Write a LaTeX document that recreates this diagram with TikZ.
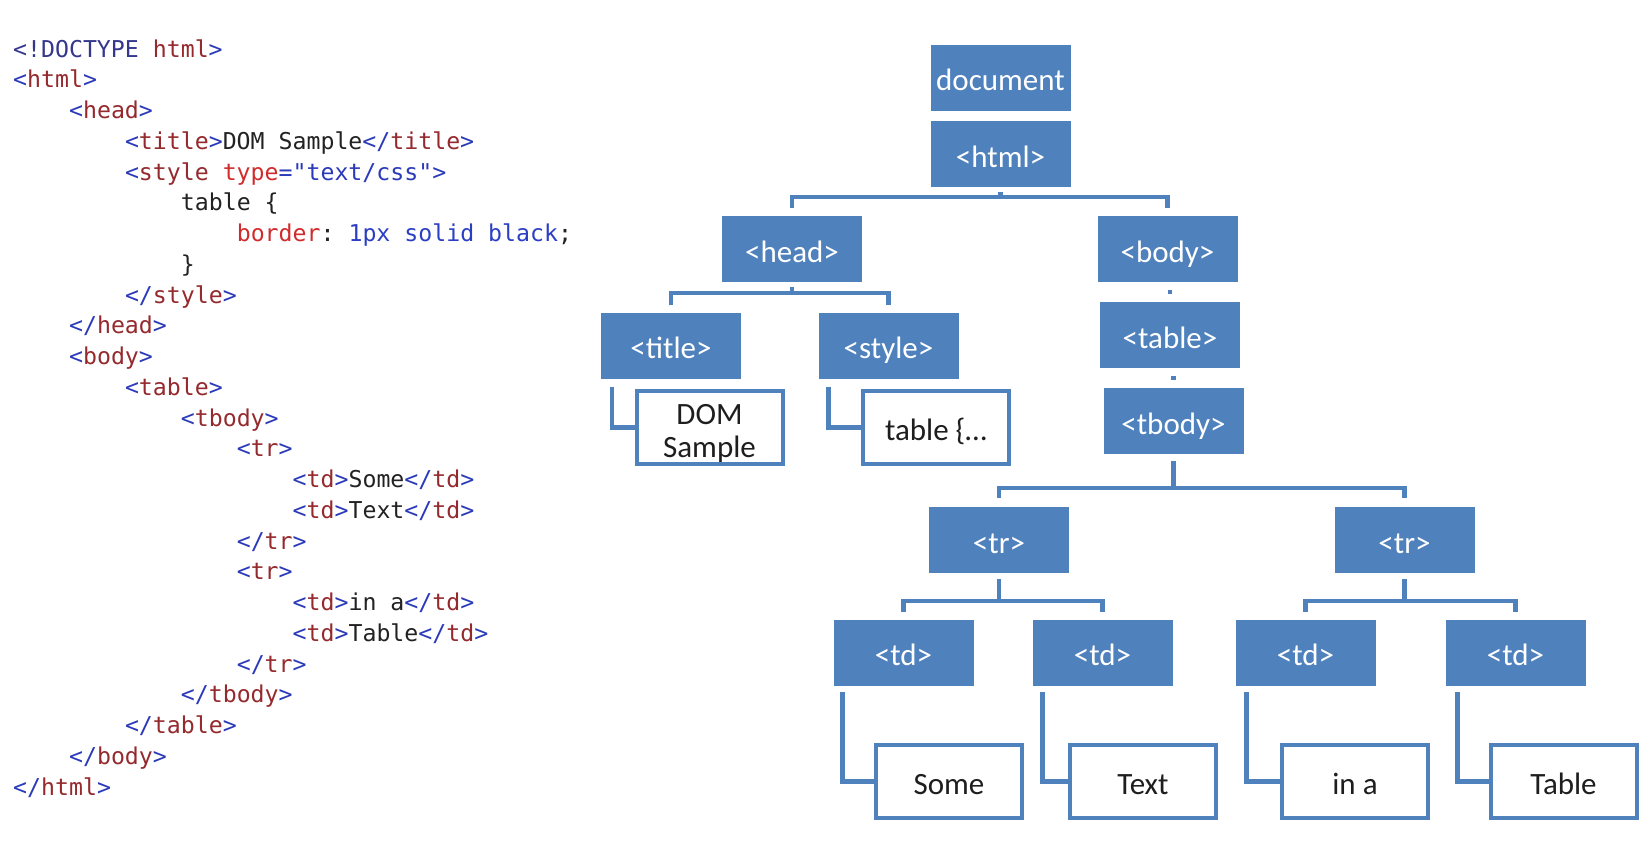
\documentclass[tikz,border=0pt]{standalone}
\usepackage{fontspec}
\setmainfont{Carlito}
\setmonofont{DejaVu Sans Mono}
\usetikzlibrary{calc}
\definecolor{dblue}{HTML}{4F81BD}
\definecolor{txt}{HTML}{1E1E1E}
\definecolor{cdelim}{HTML}{2B3AB8}
\definecolor{cdoc}{HTML}{34378C}
\definecolor{ctag}{HTML}{952A2E}
\definecolor{cattr}{HTML}{D02C2C}
\definecolor{cval}{HTML}{2B3FC4}
\definecolor{ctext}{HTML}{222222}
\newcommand\hD[1]{\textcolor{cdelim}{#1}}
\newcommand\hK[1]{\textcolor{cdoc}{#1}}
\newcommand\hT[1]{\textcolor{ctag}{#1}}
\newcommand\hA[1]{\textcolor{cattr}{#1}}
\newcommand\hV[1]{\textcolor{cval}{#1}}
\begin{document}
\begin{tikzpicture}[x=1pt,y=-1pt,
  bbox/.style={fill=dblue, text=white, minimum width=140pt, minimum height=66pt, inner sep=0pt, text height=26pt, text depth=0pt, font=\fontsize{31}{31}\selectfont},
  wboxbase/.style={draw=dblue, line width=4pt, fill=white, text=txt, minimum width=146pt, minimum height=73pt, inner sep=0pt, align=center, font=\fontsize{31}{33}\selectfont},
  wbox/.style={wboxbase, text height=25pt, text depth=0pt},
  conn/.style={draw=dblue, line width=4.5pt},
  codeline/.style={anchor=base west, inner sep=0pt, text=ctext, font=\ttfamily\fontsize{23.2}{23.2}\selectfont}]
\useasboundingbox (0,0) rectangle (1652,854);
\fill[white] (0,0) rectangle (1652,854);

% ---------- code listing ----------
\def\lh{30.75}
\def\ind{55.9}
\node[codeline] (l0)  at (13+0*\ind, 57+0*\lh)  {\hK{<!DOCTYPE} \hT{html}\hD{>}};
\node[codeline] (l1)  at (13+0*\ind, 57+1*\lh)  {\hD{<}\hT{html}\hD{>}};
\node[codeline] (l2)  at (13+1*\ind, 57+2*\lh)  {\hD{<}\hT{head}\hD{>}};
\node[codeline] (l3)  at (13+2*\ind, 57+3*\lh)  {\hD{<}\hT{title}\hD{>}DOM Sample\hD{</}\hT{title}\hD{>}};
\node[codeline] (l4)  at (13+2*\ind, 57+4*\lh)  {\hD{<}\hT{style} \hA{type}\hD{="text/css">}};
\node[codeline] (l5)  at (13+3*\ind, 57+5*\lh)  {table \{};
\node[codeline] (l6)  at (13+4*\ind, 57+6*\lh)  {\hA{border}: \hV{1px solid black};};
\node[codeline] (l7)  at (13+3*\ind, 57+7*\lh)  {\}};
\node[codeline] (l8)  at (13+2*\ind, 57+8*\lh)  {\hD{</}\hT{style}\hD{>}};
\node[codeline] (l9)  at (13+1*\ind, 57+9*\lh)  {\hD{</}\hT{head}\hD{>}};
\node[codeline] (l10) at (13+1*\ind, 57+10*\lh) {\hD{<}\hT{body}\hD{>}};
\node[codeline] (l11) at (13+2*\ind, 57+11*\lh) {\hD{<}\hT{table}\hD{>}};
\node[codeline] (l12) at (13+3*\ind, 57+12*\lh) {\hD{<}\hT{tbody}\hD{>}};
\node[codeline] (l13) at (13+4*\ind, 57+13*\lh) {\hD{<}\hT{tr}\hD{>}};
\node[codeline] (l14) at (13+5*\ind, 57+14*\lh) {\hD{<}\hT{td}\hD{>}Some\hD{</}\hT{td}\hD{>}};
\node[codeline] (l15) at (13+5*\ind, 57+15*\lh) {\hD{<}\hT{td}\hD{>}Text\hD{</}\hT{td}\hD{>}};
\node[codeline] (l16) at (13+4*\ind, 57+16*\lh) {\hD{</}\hT{tr}\hD{>}};
\node[codeline] (l17) at (13+4*\ind, 57+17*\lh) {\hD{<}\hT{tr}\hD{>}};
\node[codeline] (l18) at (13+5*\ind, 57+18*\lh) {\hD{<}\hT{td}\hD{>}in a\hD{</}\hT{td}\hD{>}};
\node[codeline] (l19) at (13+5*\ind, 57+19*\lh) {\hD{<}\hT{td}\hD{>}Table\hD{</}\hT{td}\hD{>}};
\node[codeline] (l20) at (13+4*\ind, 57+20*\lh) {\hD{</}\hT{tr}\hD{>}};
\node[codeline] (l21) at (13+3*\ind, 57+21*\lh) {\hD{</}\hT{tbody}\hD{>}};
\node[codeline] (l22) at (13+2*\ind, 57+22*\lh) {\hD{</}\hT{table}\hD{>}};
\node[codeline] (l23) at (13+1*\ind, 57+23*\lh) {\hD{</}\hT{body}\hD{>}};
\node[codeline] (l24) at (13+0*\ind, 57+24*\lh) {\hD{</}\hT{html}\hD{>}};

% ---------- tree nodes ----------
\node[bbox] (doc)   at (1000.5,77.5) {document};
\node[bbox] (html)  at (1000.5,154)  {<html>};
\node[bbox] (head)  at (792,249)     {<head>};
\node[bbox] (body)  at (1167.5,249)  {<body>};
\node[bbox] (title) at (671,345.5)   {<title>};
\node[bbox] (style) at (888.5,345.5) {<style>};
\node[bbox] (table) at (1170,335)    {<table>};
\node[bbox] (tbody) at (1173.5,421)  {<tbody>};
\node[bbox] (tr1)   at (999,540)     {<tr>};
\node[bbox] (tr2)   at (1404.5,540)  {<tr>};
\node[bbox] (td1)   at (903.5,652.5) {<td>};
\node[bbox] (td2)   at (1102.5,652.5){<td>};
\node[bbox] (td3)   at (1305.5,652.5){<td>};
\node[bbox] (td4)   at (1515.5,652.5){<td>};

\node[wboxbase] (dom) at (709.5,427.5) {\raisebox{-6.5pt}[\height][\depth]{\begin{tabular}{@{}c@{}}DOM\\Sample\end{tabular}}};
\node[wbox] (tcss)  at (936,427.5)   {table \{…};
\node[wbox] (some)  at (949,781.5)   {Some};
\node[wbox] (text)  at (1143,781.5)  {Text};
\node[wbox] (ina)   at (1355,781.5)  {in a};
\node[wbox] (tabl)  at (1563.5,781.5){Table};

% ---------- connectors ----------
\coordinate (bus1) at (0,197);
\draw[conn] ($(html.south)+(0,5)$) -- (html.south |- bus1);
\draw[conn] ($(head.north)+(0,-8)$) -- (head.north |- bus1) -- (body.north |- bus1) -- ($(body.north)+(0,-8)$);

\coordinate (bus2) at (0,293);
\draw[conn] ($(head.south)+(0,5)$) -- (head.south |- bus2);
\draw[conn] ($(title.north)+(0,-7)$) -- (title.north |- bus2) -- (style.north |- bus2) -- ($(style.north)+(0,-7)$);

\draw[conn] ($(title.south west)+(11,8)$) |- (dom.west);
\draw[conn] ($(style.south west)+(10,8)$) |- (tcss.west);

\draw[conn, shorten <=7.5pt, shorten >=7.5pt] (body.south -| table.north) -- (table.north);
\draw[conn, shorten <=7.5pt, shorten >=7.5pt] (table.south -| tbody.north) -- (tbody.north);

\coordinate (bus3) at (0,488);
\draw[conn] ($(tbody.south)+(0,7)$) -- (tbody.south |- bus3);
\draw[conn] ($(tr1.north)+(0,-9)$) -- (tr1.north |- bus3) -- (tr2.north |- bus3) -- ($(tr2.north)+(0,-9)$);

\coordinate (bus4) at (0,601);
\draw[conn] ($(tr1.south)+(0,6)$) -- (tr1.south |- bus4);
\draw[conn] ($(td1.north)+(0,-7)$) -- (td1.north |- bus4) -- (td2.north |- bus4) -- ($(td2.north)+(0,-7)$);
\draw[conn] ($(tr2.south)+(0,6)$) -- (tr2.south |- bus4);
\draw[conn] ($(td3.north)+(0,-7)$) -- (td3.north |- bus4) -- (td4.north |- bus4) -- ($(td4.north)+(0,-7)$);

\draw[conn] ($(td1.south west)+(9,6)$) |- (some.west);
\draw[conn] ($(td2.south west)+(10,6)$) |- (text.west);
\draw[conn] ($(td3.south west)+(11,6)$) |- (ina.west);
\draw[conn] ($(td4.south west)+(12,6)$) |- (tabl.west);
\end{tikzpicture}
\end{document}
